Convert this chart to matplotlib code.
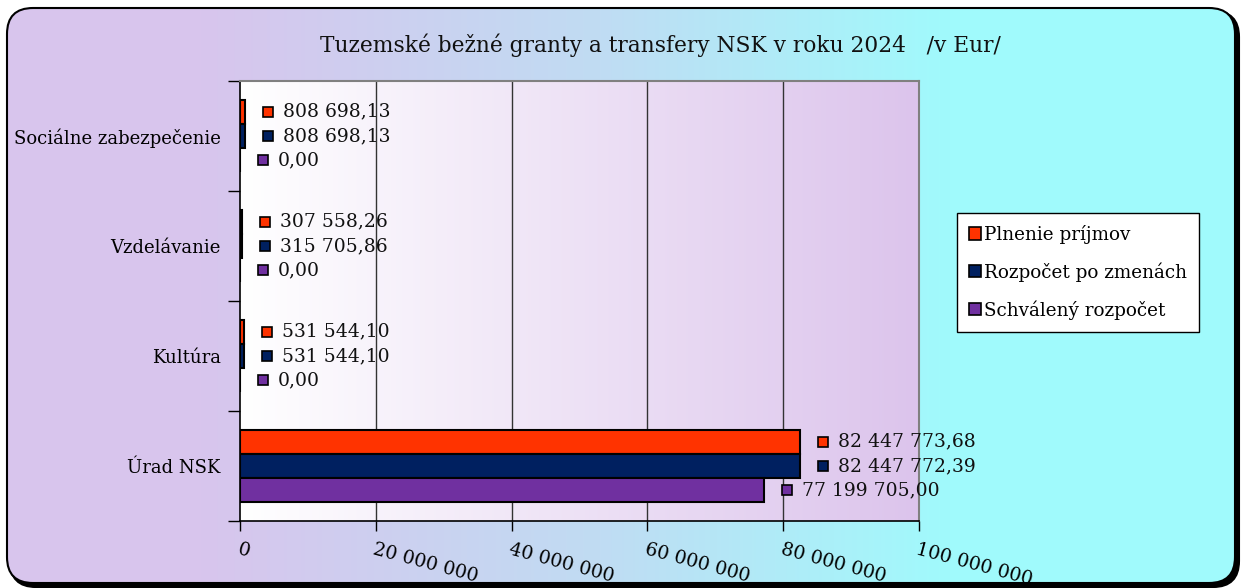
import numpy as np
import matplotlib
matplotlib.use("Agg")
import matplotlib.pyplot as plt
from matplotlib.patches import FancyBboxPatch, Patch
import matplotlib.transforms as mtransforms

plt.rcParams['font.family'] = ['DejaVu Serif', 'Liberation Serif']

# ---- data ----
categories = ["Úrad NSK", "Kultúra", "Vzdelávanie", "Sociálne zabezpečenie"]
series_names = ["Plnenie príjmov", "Rozpočet po zmenách", "Schválený rozpočet"]
plnenie = [82447773.68, 531544.10, 307558.26, 808698.13]
rozpocet_zmeny = [82447772.39, 531544.10, 315705.86, 808698.13]
schvaleny = [77199705.00, 0.00, 0.00, 0.00]
x_ticks = [0, 20000000, 40000000, 60000000, 80000000, 100000000]
x_tick_labels = ["0", "20 000 000", "40 000 000", "60 000 000", "80 000 000", "100 000 000"]
title = "Tuzemské bežné granty a transfery NSK v roku 2024   /v Eur/"
colors = ["#FF3300", "#002060", "#7030A0"]

W, H = 1241, 588
fig = plt.figure(figsize=(W / 100, H / 100), dpi=100)
fig.patch.set_facecolor("white")

# ---- background with rounded border ----
bg = fig.add_axes([0, 0, 1, 1], zorder=-10)
bg.set_xlim(0, W)
bg.set_ylim(H, 0)
bg.axis("off")
xs = np.arange(W)
stops_x = [0, 200, 600, 950, W]
stops_c = np.array([[216, 197, 237], [216, 197, 237], [192, 220, 243], [160, 250, 252], [160, 250, 252]]) / 255
grad = np.stack([np.interp(xs, stops_x, stops_c[:, i]) for i in range(3)], axis=-1)
img = np.repeat(grad[np.newaxis, :, :], 2, axis=0)
shadow = FancyBboxPatch((10, 11), 1229, 576, boxstyle="round,pad=0,rounding_size=26",
                        facecolor="black", edgecolor="black", linewidth=1.5, zorder=0)
bg.add_patch(shadow)
box = FancyBboxPatch((7, 8), 1228, 575, boxstyle="round,pad=0,rounding_size=26",
                     facecolor="none", edgecolor="black", linewidth=1.5, zorder=2)
bg.add_patch(box)
im = bg.imshow(img, extent=(0, W, H, 0), aspect="auto", zorder=1)
im.set_clip_path(box)

# ---- plot area ----
left, right, top, bottom = 240, 919, 81, 521
ax = fig.add_axes([left / W, 1 - bottom / H, (right - left) / W, (bottom - top) / H])
ax.set_xlim(0, 100000000)
ax.set_ylim(-0.5, 3.5)
ax.set_facecolor("white")
pa = np.linspace(0, 1, 256)
pc0 = np.array([255, 255, 255]) / 255
pc1 = np.array([220, 196, 236]) / 255
pgrad = pc0[None, :] * (1 - pa[:, None]) + pc1[None, :] * pa[:, None]
ax.imshow(np.repeat(pgrad[None, :, :], 2, axis=0), extent=(0, 100000000, -0.5, 3.5),
          aspect="auto", zorder=0)

for gx in x_ticks[1:-1]:
    ax.axvline(gx, color="#333333", linewidth=1.0, zorder=1)

y = np.arange(len(categories))
h = 0.218
offs = [0.222, 0.0, -0.222]
series = [plnenie, rozpocet_zmeny, schvaleny]
px2pt = 0.72
for s, vals, off, c in zip(series_names, series, offs, colors):
    ax.barh(y + off, vals, height=h, color=c, edgecolor="black", linewidth=1.5, zorder=3)
    for yi, v in zip(y, vals):
        lab = f"{v:,.2f}".replace(",", " ").replace(".", ",")
        mk = mtransforms.offset_copy(ax.transData, fig=fig, x=23 * px2pt, y=0, units="points")
        ax.plot([v], [yi + off], marker="s", markersize=7, markerfacecolor=c,
                markeredgecolor="black", markeredgewidth=1.2, transform=mk,
                clip_on=False, zorder=5)
        ax.annotate(lab, xy=(v, yi + off), xytext=(38 * px2pt, 0), textcoords="offset points",
                    ha="left", va="center", fontsize=13.5, color="#111111",
                    annotation_clip=False, zorder=5)

# spines
for sp in ["top", "right"]:
    ax.spines[sp].set_color("#808080")
    ax.spines[sp].set_linewidth(1.5)
for sp in ["left", "bottom"]:
    ax.spines[sp].set_color("black")
    ax.spines[sp].set_linewidth(1.2)

ax.set_xticks(x_ticks)
ax.set_xticklabels(x_tick_labels, rotation=-15, ha="left", va="top",
                   rotation_mode="anchor", fontsize=13.5)
ax.tick_params(axis="x", direction="out", length=7, width=1, pad=7)

ax.set_yticks([-0.5, 0.5, 1.5, 2.5, 3.5])
ax.set_yticklabels([])
ax.tick_params(axis="y", which="major", direction="out", length=9, width=1)
ax.set_yticks(y, minor=True)
ax.set_yticklabels(categories, minor=True, fontsize=13)
ax.tick_params(axis="y", which="minor", length=0, pad=14)

# legend
handles = [Patch(facecolor=c, edgecolor="black", linewidth=1.2) for c in colors]
leg = fig.legend(handles, series_names, loc="upper left",
                 bbox_to_anchor=(957 / W, 1 - 213 / H), fontsize=13.2,
                 frameon=True, fancybox=False, edgecolor="black", framealpha=1,
                 handlelength=0.65, handleheight=0.65, handletextpad=0.2,
                 labelspacing=1.0, borderpad=0.65, borderaxespad=0)
leg.get_frame().set_linewidth(1.0)
leg.get_frame().set_facecolor("white")

fig.text(660 / W, 1 - 45 / H, title, ha="center", va="center", fontsize=15.7, color="#111111")

fig.savefig("out.png", dpi=100)
